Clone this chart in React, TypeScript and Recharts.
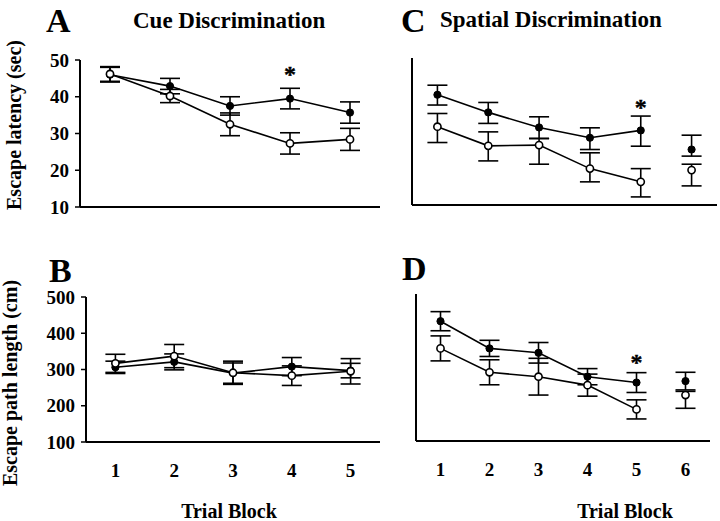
import React from "react";
import { LineChart, Line, XAxis, YAxis, ErrorBar, ReferenceDot } from "recharts";

// ---------- data ----------
const cueBlocks = [1, 2, 3, 4, 5];
const spatialBlocks = [1, 2, 3, 4, 5, 6];
const connectedSpatialBlocks = 5; // block 6 is plotted unconnected

// A: Cue discrimination, escape latency (sec)
const cueLatencyFilled = [46.0, 42.9, 37.5, 39.5, 35.7];
const cueLatencyFilledErr = [2.0, 2.1, 2.5, 2.8, 2.9];
const cueLatencyOpen = [46.2, 40.2, 32.5, 27.3, 28.4];
const cueLatencyOpenErr = [2.0, 1.8, 3.1, 2.9, 3.0];

// B: Cue discrimination, escape path length (cm)
const cuePathFilled = [306, 321, 290, 308, 297];
const cuePathFilledErr = [17, 22, 28, 25, 20];
const cuePathOpen = [317, 337, 291, 283, 295];
const cuePathOpenErr = [25, 32, 32, 27, 35];

// C: Spatial discrimination, escape latency (sec)  [lower, upper] errors
const spatialLatencyFilled = [40.0, 35.2, 31.1, 28.3, 30.3, 25.1];
const spatialLatencyFilledErr = [[2.8, 2.6], [3.0, 2.7], [3.0, 2.9], [3.2, 2.7], [4.3, 3.9], [1.8, 3.9]];
const spatialLatencyOpen = [31.3, 26.1, 26.3, 19.9, 16.3, 19.5];
const spatialLatencyOpenErr = [[4.3, 3.6], [4.1, 3.8], [5.2, 1.8], [3.6, 4.3], [4.1, 3.6], [4.3, 1.6]];

// D: Spatial discrimination, escape path length (cm)
const spatialPathFilled = [426, 352, 340, 275, 259, 263];
const spatialPathFilledErr = [[26, 26], [22, 22], [28, 28], [22, 22], [27, 27], [24, 24]];
const spatialPathOpen = [352, 287, 275, 252, 186, 225];
const spatialPathOpenErr = [[34, 34], [34, 34], [50, 50], [30, 30], [26, 26], [36, 10]];

const latencyTicks = [10, 20, 30, 40, 50];
const pathTicks = [100, 200, 300, 400, 500];

// significance markers (block, value just above the filled error bar)
const starA = { x: 4, y: 46.2 };
const starC = { x: 5, y: 36.6 };
const starD = { x: 5, y: 316 };

const panelTitles = { A: "Cue Discrimination", C: "Spatial Discrimination" };
const yTitles = ["Escape latency (sec)", "Escape path length (cm)"];
const xTitle = "Trial Block";

// ---------- layout ----------
const W = 720;
const H = 521;
const FONT = "'Liberation Serif', 'Times New Roman', serif";
const YAXIS_W = 40;
const XAXIS_H = 30;

const rows = (xs: number[], ys: number[], errs: any[]) =>
  xs.map((x, i) => ({ x, y: ys[i], err: errs[i] }));

type PanelProps = {
  box: { left: number; right: number; top: number; bottom: number };
  filled: any[];
  open: any[];
  filledExtra?: any[];
  openExtra?: any[];
  yDomain: [number, number];
  yTicks: number[];
  xDomain: [number, number];
  xTicks: number[];
  showYLabels: boolean;
  showXLabels: boolean;
  star?: { x: number; y: number };
};

const tickStyle = { fontFamily: FONT, fontSize: 19, fontWeight: 700, fill: "#000" };

const StarLabel = (props: any) => {
  const vb = props.viewBox || {};
  const cx = vb.x + (vb.width || 0) / 2;
  const cy = vb.y + (vb.height || 0) / 2;
  return (
    <text
      x={cx}
      y={cy + 8}
      textAnchor="middle"
      fontFamily={FONT}
      fontSize={24}
      fontWeight={700}
      fill="#000"
      stroke="#000"
      strokeWidth={0.4}
    >
      *
    </text>
  );
};

function Panel(p: PanelProps) {
  const dotFilled = { r: 3.6, fill: "#000", stroke: "#000", strokeWidth: 1 };
  const dotOpen = { r: 3.6, fill: "#fff", stroke: "#000", strokeWidth: 1.6 };
  const eb = (
    <ErrorBar dataKey="err" direction="y" width={10} stroke="#000" strokeWidth={1.6} />
  );
  return (
    <div style={{ position: "absolute", left: 0, top: 0 }}>
      <LineChart
        width={W}
        height={H}
        margin={{
          left: p.box.left - YAXIS_W,
          right: W - p.box.right,
          top: p.box.top,
          bottom: H - p.box.bottom - XAXIS_H,
        }}
      >
        <XAxis
          dataKey="x"
          type="number"
          domain={p.xDomain}
          ticks={p.xTicks}
          interval={0}
          allowDataOverflow
          height={XAXIS_H}
          tickLine={false}
          tickSize={6}
          tickMargin={16}
          axisLine={{ stroke: "#000", strokeWidth: 2 }}
          tick={p.showXLabels ? tickStyle : false}
        />
        <YAxis
          type="number"
          domain={p.yDomain}
          ticks={p.yTicks}
          interval={0}
          allowDataOverflow
          width={YAXIS_W}
          tickSize={5}
          tickMargin={6}
          axisLine={{ stroke: "#000", strokeWidth: 2 }}
          tickLine={{ stroke: "#000", strokeWidth: 1.5 }}
          tick={p.showYLabels ? tickStyle : false}
        />
        <Line data={p.filled} dataKey="y" stroke="#000" strokeWidth={1.6} dot={dotFilled} isAnimationActive={false}>
          {eb}
        </Line>
        {p.filledExtra && (
          <Line data={p.filledExtra} dataKey="y" stroke="#000" strokeWidth={1.6} dot={dotFilled} isAnimationActive={false}>
            {eb}
          </Line>
        )}
        <Line data={p.open} dataKey="y" stroke="#000" strokeWidth={1.6} dot={dotOpen} isAnimationActive={false}>
          {eb}
        </Line>
        {p.openExtra && (
          <Line data={p.openExtra} dataKey="y" stroke="#000" strokeWidth={1.6} dot={dotOpen} isAnimationActive={false}>
            {eb}
          </Line>
        )}
        {p.star && (
          <ReferenceDot
            x={p.star.x}
            y={p.star.y}
            r={0}
            fill="none"
            stroke="none"
            label={<StarLabel />}
          />
        )}
      </LineChart>
    </div>
  );
}

export default function App() {
  const aFilled = rows(cueBlocks, cueLatencyFilled, cueLatencyFilledErr);
  const aOpen = rows(cueBlocks, cueLatencyOpen, cueLatencyOpenErr);
  const bFilled = rows(cueBlocks, cuePathFilled, cuePathFilledErr);
  const bOpen = rows(cueBlocks, cuePathOpen, cuePathOpenErr);
  const cFilledAll = rows(spatialBlocks, spatialLatencyFilled, spatialLatencyFilledErr);
  const cOpenAll = rows(spatialBlocks, spatialLatencyOpen, spatialLatencyOpenErr);
  const dFilledAll = rows(spatialBlocks, spatialPathFilled, spatialPathFilledErr);
  const dOpenAll = rows(spatialBlocks, spatialPathOpen, spatialPathOpenErr);
  const n = connectedSpatialBlocks;

  const txt = { fontFamily: FONT, fontWeight: 700, fill: "#000" } as const;

  return (
    <div style={{ position: "absolute", left: 0, top: 0, width: W, height: H, background: "#fff" }}>
      <Panel
        box={{ left: 80, right: 380, top: 60, bottom: 207 }}
        filled={aFilled}
        open={aOpen}
        yDomain={[10, 50]}
        yTicks={latencyTicks}
        xDomain={[0.5, 5.5]}
        xTicks={cueBlocks}
        showYLabels
        showXLabels={false}
        star={starA}
      />
      <Panel
        box={{ left: 86, right: 380, top: 297, bottom: 442 }}
        filled={bFilled}
        open={bOpen}
        yDomain={[100, 500]}
        yTicks={pathTicks}
        xDomain={[0.5, 5.5]}
        xTicks={cueBlocks}
        showYLabels
        showXLabels
      />
      <Panel
        box={{ left: 412, right: 717, top: 58, bottom: 205 }}
        filled={cFilledAll.slice(0, n)}
        open={cOpenAll.slice(0, n)}
        filledExtra={cFilledAll.slice(n)}
        openExtra={cOpenAll.slice(n)}
        yDomain={[10, 50]}
        yTicks={latencyTicks}
        xDomain={[0.5, 6.5]}
        xTicks={spatialBlocks}
        showYLabels={false}
        showXLabels={false}
        star={starC}
      />
      <Panel
        box={{ left: 416, right: 710, top: 294, bottom: 441 }}
        filled={dFilledAll.slice(0, n)}
        open={dOpenAll.slice(0, n)}
        filledExtra={dFilledAll.slice(n)}
        openExtra={dOpenAll.slice(n)}
        yDomain={[100, 500]}
        yTicks={pathTicks}
        xDomain={[0.5, 6.5]}
        xTicks={spatialBlocks}
        showYLabels={false}
        showXLabels
        star={starD}
      />
      <svg width={W} height={H} style={{ position: "absolute", left: 0, top: 0, pointerEvents: "none" }}>
        <text x={46} y={32} fontSize={34} {...txt}>A</text>
        <text x={133} y={28} fontSize={23} {...txt}>{panelTitles.A}</text>
        <text x={401} y={32} fontSize={34} {...txt}>C</text>
        <text x={440} y={27} fontSize={23} {...txt}>{panelTitles.C}</text>
        <text x={49} y={282} fontSize={34} {...txt}>B</text>
        <text x={402} y={280} fontSize={34} {...txt}>D</text>
        <text transform="translate(21,125) rotate(-90)" textAnchor="middle" fontSize={20} {...txt}>{yTitles[0]}</text>
        <text transform="translate(17,383) rotate(-90)" textAnchor="middle" fontSize={20} {...txt}>{yTitles[1]}</text>
        <text x={229} y={518} textAnchor="middle" fontSize={20} {...txt}>{xTitle}</text>
        <text x={625} y={518} textAnchor="middle" fontSize={20} {...txt}>{xTitle}</text>
      </svg>
    </div>
  );
}
